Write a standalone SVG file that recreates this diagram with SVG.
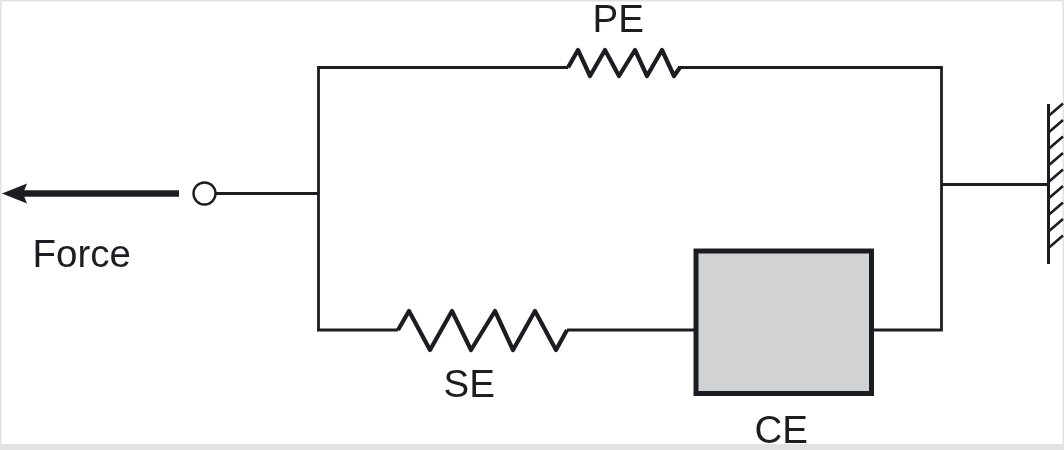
<svg xmlns="http://www.w3.org/2000/svg" width="1064" height="450" viewBox="0 0 1064 450">
<style>
.w{fill:none;stroke:#1f1f20;stroke-width:2.800;stroke-linejoin:miter}
.s{fill:none;stroke:#1f1f20;stroke-width:4.200;stroke-linejoin:round}
.h{fill:none;stroke:#1f1f20;stroke-width:2.600}
text{font-family:"Liberation Sans",Arial,sans-serif;font-size:38.500px;fill:#1f1f20}
</style>
<defs>
<filter id="soft" x="0" y="0" width="1" height="1" filterUnits="objectBoundingBox"><feGaussianBlur stdDeviation="0.5"/></filter>
</defs>
<rect width="1064" height="450" fill="#fff"/>
<rect x="0" y="0" width="1064" height="1.500" fill="#e2e2e2"/>
<rect x="0" y="0" width="1.500" height="450" fill="#e2e2e2"/>
<rect x="1062.500" y="0" width="1.500" height="450" fill="#e2e2e2"/>
<rect x="0" y="444" width="1064" height="6" fill="#e2e2e2"/>
<g filter="url(#soft)">
<rect x="0" y="0" width="1064" height="450" fill="none"/>
<g id="connectors">
<path class="w" d="M216,193.500 H318.500 M318.500,66.500 V330.500 M317,67.500 H568 M678,67.500 H941.500 V330 H873 M317,330 H398 M567,330 H695 M941.500,184.500 H1048.500"/>
<path d="M179,193.500 H22" fill="none" stroke="#1f1f20" stroke-width="6.500"/>
<path d="M2,193.500 L27,183.500 L23,193.500 L27,203.500 Z" fill="#1f1f20"/>
</g>
<g id="terminal"><circle cx="204.500" cy="193.500" r="11" fill="#fff" stroke="#1f1f20" stroke-width="2.400"/></g>
<g id="force-label"><text x="32.500" y="267">Force</text></g>
<g id="PE">
<path class="s" d="M568,67.500 L578,50 L590,76 L605,50 L619,76 L635,50 L647,76 L662,50 L674,76 L680,67.500"/>
<text x="592.500" y="32">PE</text>
</g>
<g id="SE">
<path class="s" d="M398,330 L409,311 L430,350 L452,311 L471,350 L495,311 L513,350 L535,311 L556,350 L567,330"/>
<text x="443.500" y="397">SE</text>
</g>
<g id="CE">
<rect x="696" y="251" width="175.500" height="142.500" fill="#d1d2d4" stroke="#1f1f20" stroke-width="5"/>
<text x="754.500" y="443">CE</text>
</g>
<g id="wall">
<path d="M1048.500,104 V264" fill="none" stroke="#1f1f20" stroke-width="3"/>
<path class="h" d="M1048.500,116 L1063,103.500 M1048.500,132.500 L1063,120 M1048.500,149 L1063,136.500 M1048.500,165.500 L1063,153 M1048.500,182 L1063,169.500 M1048.500,198.500 L1063,186 M1048.500,215 L1063,202.500 M1048.500,231.500 L1063,219 M1048.500,248 L1063,235.500"/>
</g>
</g>
</svg>
